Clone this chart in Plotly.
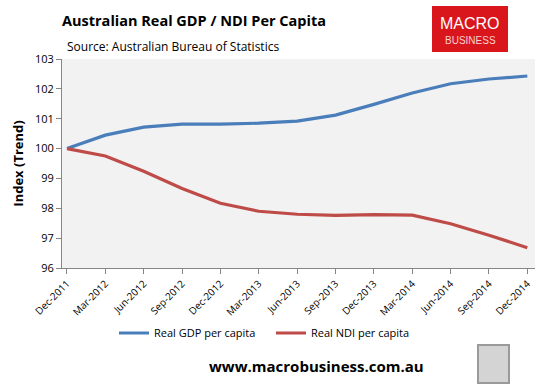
import plotly.graph_objects as go

quarters = ["Dec-2011", "Mar-2012", "Jun-2012", "Sep-2012", "Dec-2012", "Mar-2013",
            "Jun-2013", "Sep-2013", "Dec-2013", "Mar-2014", "Jun-2014", "Sep-2014", "Dec-2014"]
gdp = [100.0, 100.45, 100.72, 100.82, 100.82, 100.85, 100.92, 101.12, 101.48, 101.86, 102.17, 102.33, 102.43]
ndi = [100.0, 99.75, 99.24, 98.66, 98.17, 97.9, 97.8, 97.76, 97.79, 97.77, 97.48, 97.1, 96.68]
y_ticks = [96, 97, 98, 99, 100, 101, 102, 103]

xs = list(range(len(quarters)))

fig = go.Figure()
fig.add_trace(go.Scatter(x=xs, y=gdp, mode="lines", name="Real GDP per capita",
                         line=dict(color="#4a7ebb", width=3.2)))
fig.add_trace(go.Scatter(x=xs, y=ndi, mode="lines", name="Real NDI per capita",
                         line=dict(color="#be4b48", width=3.2)))

font_main = "Open Sans, Liberation Sans, sans-serif"

L, R, T, B = 62, 535, 59, 268
W, H = R - L, B - T

def px(x):
    return (x - L) / W

def py(y):
    return (B - y) / H

fig.update_layout(
    width=555, height=387,
    margin=dict(l=L, r=555 - R, t=T, b=387 - B, autoexpand=False),
    paper_bgcolor="white", plot_bgcolor="#f2f2f2",
    font=dict(family=font_main, color="#000000", size=11),
    showlegend=True,
    legend=dict(orientation="h", x=px(114), y=py(333), xanchor="left", yanchor="middle",
                font=dict(size=11, family=font_main), entrywidth=112, entrywidthmode="pixels",
                bgcolor="rgba(0,0,0,0)"),
    xaxis=dict(range=[-0.13, 12.2], tickmode="array", tickvals=xs, ticktext=quarters,
               tickangle=-45, showgrid=False, zeroline=False, showline=True, automargin=False,
               linecolor="#868686", linewidth=1, ticks="outside", ticklen=5,
               tickcolor="#868686", tickfont=dict(size=10)),
    yaxis=dict(range=[96, 103], tickmode="array", tickvals=y_ticks, automargin=False,
               showgrid=False, zeroline=False, showline=True,
               linecolor="#868686", linewidth=1, ticks="outside", ticklen=5,
               tickcolor="#868686", tickfont=dict(size=11),
               title=dict(text="<b>Index (Trend)</b>", font=dict(size=13), standoff=8)),
)

fig.add_annotation(text="<b>Australian Real GDP / NDI Per Capita</b>", xref="paper", yref="paper",
                   x=px(60), y=py(20), xanchor="left", yanchor="middle",
                   showarrow=False, font=dict(size=14.5, family=font_main))
fig.add_annotation(text="Source: Australian Bureau of Statistics", xref="paper", yref="paper",
                   x=px(65), y=py(47), xanchor="left", yanchor="middle",
                   showarrow=False, font=dict(size=12, family=font_main))

# logo box
fig.add_shape(type="rect", xref="paper", yref="paper", x0=px(432), x1=px(508),
              y0=py(52), y1=py(6), fillcolor="#d9161c", line=dict(width=0), layer="below")
fig.add_annotation(text="MACRO", xref="paper", yref="paper", x=px(470), y=py(23),
                   xanchor="center", yanchor="middle",
                   showarrow=False, font=dict(size=16, color="white", family="Liberation Sans"))
fig.add_annotation(text="BUSINESS", xref="paper", yref="paper", x=px(470), y=py(40),
                   xanchor="center", yanchor="middle",
                   showarrow=False, font=dict(size=10, color="#f8d0d0", family="Liberation Sans"))

fig.add_annotation(text="<b>www.macrobusiness.com.au</b>", xref="paper", yref="paper",
                   x=px(316), y=py(366), xanchor="center", yanchor="middle", showarrow=False,
                   font=dict(size=15, family=font_main))
fig.add_shape(type="rect", xref="paper", yref="paper", x0=px(478), x1=px(509),
              y0=py(383), y1=py(345), fillcolor="#d4d4d4",
              line=dict(color="#9a9a9a", width=2))

fig.write_html("out.html", config={"displayModeBar": False},
               post_script="document.body.style.margin='0';")
